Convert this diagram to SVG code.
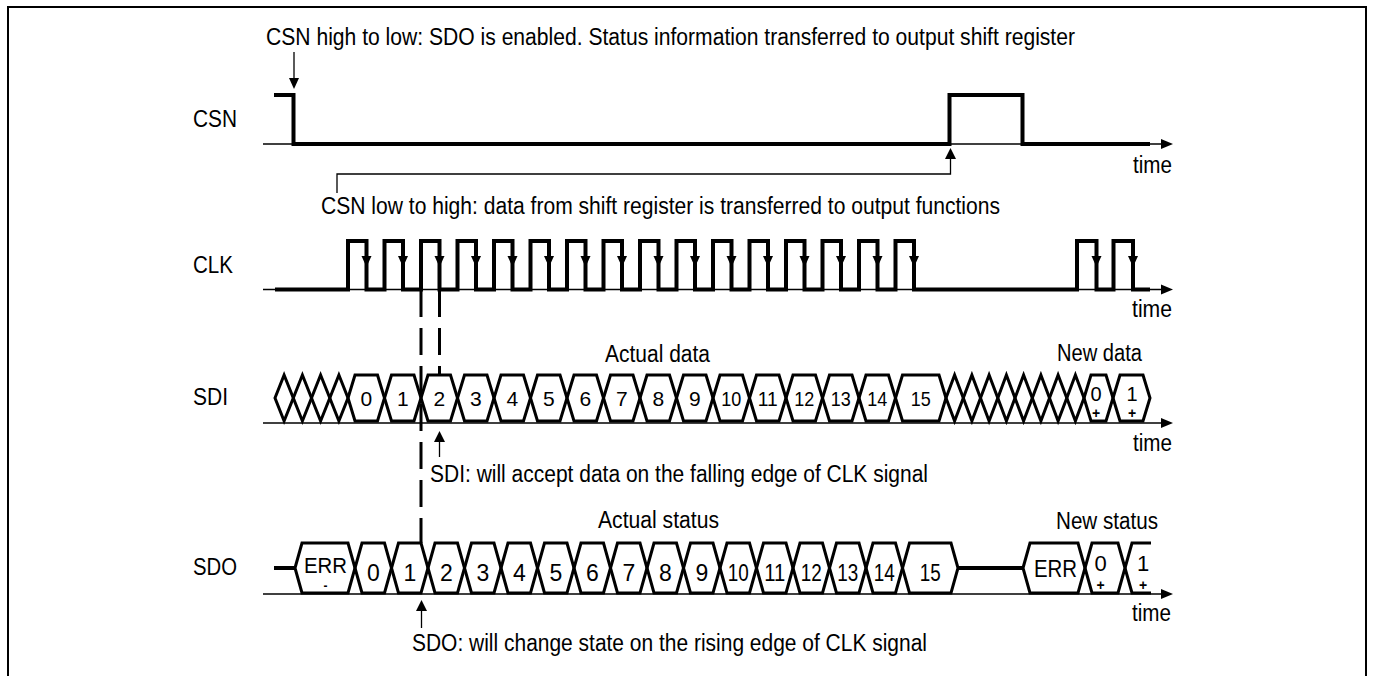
<svg xmlns="http://www.w3.org/2000/svg" width="1373" height="676" viewBox="0 0 1373 676">
  <style>
    .frame{fill:none;stroke:#000;stroke-width:2}
    .sig{fill:none;stroke:#000;stroke-width:4;stroke-linejoin:miter;stroke-linecap:butt}
    .bus{fill:none;stroke:#000;stroke-width:3;stroke-linejoin:miter}
    .axis{fill:none;stroke:#000;stroke-width:1.3}
    .thin{fill:none;stroke:#000;stroke-width:1.3}
    .dash{fill:none;stroke:#000;stroke-width:3;stroke-dasharray:27 11}
    .head{fill:#000;stroke:none}
    text{font-family:"Liberation Sans",Arial,Helvetica,sans-serif;fill:#000}
    .t{font-size:23px}
    .d1{font-size:21px;text-anchor:middle}
    .d2{font-size:23px;text-anchor:middle}
    .pm{font-size:14px;font-weight:bold;text-anchor:middle}
  </style>
  <defs>
    <!-- arrowheads, tip at the origin -->
    <path id="ah-r" class="head" d="M0,0 L-12,-5 L-12,5 Z"/>
    <path id="ah-d" class="head" d="M0,0 L-5,-11 L5,-11 Z"/>
    <path id="ah-u" class="head" d="M0,0 L-5.5,11 L5.5,11 Z"/>
  </defs>

  <rect width="1373" height="676" fill="#fff"/>
  <path class="frame" d="M8,676 V7 H1366 V676"/>

  <!-- CSN -->
  <g id="csn">
    <text class="t" x="193" y="127" textLength="44" lengthAdjust="spacingAndGlyphs">CSN</text>
    <path class="axis" d="M263,144 H1162"/>
    <use href="#ah-r" x="1173" y="144"/>
    <path class="sig" d="M274,95 H293.5 V144 H949.5 V95 H1022.5 V144 H1150"/>
    <text class="t" x="1133" y="173" textLength="39" lengthAdjust="spacingAndGlyphs">time</text>
  </g>

  <!-- CLK -->
  <g id="clk">
    <text class="t" x="193" y="273" textLength="40" lengthAdjust="spacingAndGlyphs">CLK</text>
    <path class="axis" d="M263,289.5 H1162"/>
    <use href="#ah-r" x="1173" y="289.5"/>
    <path class="sig" d="M275,289.5 H348 V241 H366.5 V289.5 H384.5 V241 H403 V289.5 H421 V241 H439.5 V289.5 H457.5 V241 H476 V289.5 H494 V241 H512.5 V289.5 H530.5 V241 H549 V289.5 H567 V241 H585.5 V289.5 H603.5 V241 H622 V289.5 H640 V241 H658.5 V289.5 H676.5 V241 H695 V289.5 H713 V241 H731.5 V289.5 H749.5 V241 H768 V289.5 H786 V241 H804.5 V289.5 H822.5 V241 H841 V289.5 H859 V241 H877.5 V289.5 H895.5 V241 H914 V289.5 H1077 V241 H1096.5 V289.5 H1113.5 V241 H1133 V289.5 H1150"/>
    <!-- falling-edge marks -->
    <g>
      <use href="#ah-d" x="366.5" y="267"/>
      <use href="#ah-d" x="403" y="267"/>
      <use href="#ah-d" x="439.5" y="267"/>
      <use href="#ah-d" x="476" y="267"/>
      <use href="#ah-d" x="512.5" y="267"/>
      <use href="#ah-d" x="549" y="267"/>
      <use href="#ah-d" x="585.5" y="267"/>
      <use href="#ah-d" x="622" y="267"/>
      <use href="#ah-d" x="658.5" y="267"/>
      <use href="#ah-d" x="695" y="267"/>
      <use href="#ah-d" x="731.5" y="267"/>
      <use href="#ah-d" x="768" y="267"/>
      <use href="#ah-d" x="804.5" y="267"/>
      <use href="#ah-d" x="841" y="267"/>
      <use href="#ah-d" x="877.5" y="267"/>
      <use href="#ah-d" x="914" y="267"/>
      <use href="#ah-d" x="1096.5" y="267"/>
      <use href="#ah-d" x="1133" y="267"/>
    </g>
    <text class="t" x="1132" y="317" textLength="40" lengthAdjust="spacingAndGlyphs">time</text>
  </g>

  <!-- SDI -->
  <g id="sdi">
    <text class="t" x="193" y="405" textLength="35" lengthAdjust="spacingAndGlyphs">SDI</text>
    <text class="t" x="605" y="362" textLength="105" lengthAdjust="spacingAndGlyphs">Actual data</text>
    <text class="t" x="1057" y="361" textLength="85" lengthAdjust="spacingAndGlyphs">New data</text>
    <path class="axis" d="M263,423 H1162"/>
    <use href="#ah-r" x="1173" y="423"/>
    <g class="bus">
      <path d="M275,398 L284.1,375 L293.3,398 L284.1,421 Z"/>
      <path d="M293.3,398 L302.4,375 L311.5,398 L302.4,421 Z"/>
      <path d="M311.5,398 L320.6,375 L329.8,398 L320.6,421 Z"/>
      <path d="M329.8,398 L338.9,375 L348,398 L338.9,421 Z"/>
      <path d="M348,398 L355,375 H377.5 L384.5,398 L377.5,421 H355 Z"/>
      <path d="M384.5,398 L391.5,375 H414 L421,398 L414,421 H391.5 Z"/>
      <path d="M421,398 L428,375 H450.5 L457.5,398 L450.5,421 H428 Z"/>
      <path d="M457.5,398 L464.5,375 H487 L494,398 L487,421 H464.5 Z"/>
      <path d="M494,398 L501,375 H523.5 L530.5,398 L523.5,421 H501 Z"/>
      <path d="M530.5,398 L537.5,375 H560 L567,398 L560,421 H537.5 Z"/>
      <path d="M567,398 L574,375 H596.5 L603.5,398 L596.5,421 H574 Z"/>
      <path d="M603.5,398 L610.5,375 H633 L640,398 L633,421 H610.5 Z"/>
      <path d="M640,398 L647,375 H669.5 L676.5,398 L669.5,421 H647 Z"/>
      <path d="M676.5,398 L683.5,375 H706 L713,398 L706,421 H683.5 Z"/>
      <path d="M713,398 L720,375 H742.5 L749.5,398 L742.5,421 H720 Z"/>
      <path d="M749.5,398 L756.5,375 H779 L786,398 L779,421 H756.5 Z"/>
      <path d="M786,398 L793,375 H815.5 L822.5,398 L815.5,421 H793 Z"/>
      <path d="M822.5,398 L829.5,375 H852 L859,398 L852,421 H829.5 Z"/>
      <path d="M859,398 L866,375 H888.5 L895.5,398 L888.5,421 H866 Z"/>
      <path d="M895.5,398 L902.5,375 H939 L946,398 L939,421 H902.5 Z"/>
      <path d="M946,398 L954.6,375 L963.3,398 L954.6,421 Z"/>
      <path d="M963.3,398 L971.9,375 L980.5,398 L971.9,421 Z"/>
      <path d="M980.5,398 L989.1,375 L997.8,398 L989.1,421 Z"/>
      <path d="M997.8,398 L1006.4,375 L1015,398 L1006.4,421 Z"/>
      <path d="M1015,398 L1023.6,375 L1032.3,398 L1023.6,421 Z"/>
      <path d="M1032.3,398 L1040.9,375 L1049.5,398 L1040.9,421 Z"/>
      <path d="M1049.5,398 L1058.1,375 L1066.8,398 L1058.1,421 Z"/>
      <path d="M1066.8,398 L1075.4,375 L1084,398 L1075.4,421 Z"/>
      <path d="M1084,398 L1091,375 H1106 L1113,398 L1106,421 H1091 Z"/>
      <path d="M1113,398 L1120,375 H1143 L1150,398 L1143,421 H1120 Z"/>
    </g>
    <g>
      <text class="d1" x="366.3" y="406">0</text>
      <text class="d1" x="402.8" y="406">1</text>
      <text class="d1" x="439.3" y="406">2</text>
      <text class="d1" x="475.8" y="406">3</text>
      <text class="d1" x="512.3" y="406">4</text>
      <text class="d1" x="548.8" y="406">5</text>
      <text class="d1" x="585.3" y="406">6</text>
      <text class="d1" x="621.8" y="406">7</text>
      <text class="d1" x="658.3" y="406">8</text>
      <text class="d1" x="694.8" y="406">9</text>
      <text class="d1" x="731.3" y="406" textLength="20" lengthAdjust="spacingAndGlyphs">10</text>
      <text class="d1" x="767.8" y="406" textLength="20" lengthAdjust="spacingAndGlyphs">11</text>
      <text class="d1" x="804.3" y="406" textLength="20" lengthAdjust="spacingAndGlyphs">12</text>
      <text class="d1" x="840.8" y="406" textLength="20" lengthAdjust="spacingAndGlyphs">13</text>
      <text class="d1" x="877.3" y="406" textLength="20" lengthAdjust="spacingAndGlyphs">14</text>
      <text class="d1" x="920.8" y="406" textLength="20" lengthAdjust="spacingAndGlyphs">15</text>
      <text class="d1" x="1096" y="400.5" style="font-size:20px">0</text>
      <text class="pm" x="1096" y="418">+</text>
      <text class="d1" x="1132" y="400.5" style="font-size:20px">1</text>
      <text class="pm" x="1132" y="418">+</text>
    </g>
    <text class="t" x="1133" y="451" textLength="39" lengthAdjust="spacingAndGlyphs">time</text>
  </g>

  <!-- SDO -->
  <g id="sdo">
    <text class="t" x="193" y="575" textLength="44" lengthAdjust="spacingAndGlyphs">SDO</text>
    <text class="t" x="598" y="528" textLength="121" lengthAdjust="spacingAndGlyphs">Actual status</text>
    <text class="t" x="1056" y="529" textLength="102" lengthAdjust="spacingAndGlyphs">New status</text>
    <path class="axis" d="M263,594 H1162"/>
    <use href="#ah-r" x="1173" y="594"/>
    <path class="sig" d="M274,568 H295 M958,568 H1023"/>
    <g class="bus">
      <path d="M295,568 L302,543 H348 L355,568 L348,593 H302 Z"/>
      <path d="M355,568 L362,543 H384.5 L391.5,568 L384.5,593 H362 Z"/>
      <path d="M391.5,568 L398.5,543 H421 L428,568 L421,593 H398.5 Z"/>
      <path d="M428,568 L435,543 H457.5 L464.5,568 L457.5,593 H435 Z"/>
      <path d="M464.5,568 L471.5,543 H494 L501,568 L494,593 H471.5 Z"/>
      <path d="M501,568 L508,543 H530.5 L537.5,568 L530.5,593 H508 Z"/>
      <path d="M537.5,568 L544.5,543 H567 L574,568 L567,593 H544.5 Z"/>
      <path d="M574,568 L581,543 H603.5 L610.5,568 L603.5,593 H581 Z"/>
      <path d="M610.5,568 L617.5,543 H640 L647,568 L640,593 H617.5 Z"/>
      <path d="M647,568 L654,543 H676.5 L683.5,568 L676.5,593 H654 Z"/>
      <path d="M683.5,568 L690.5,543 H713 L720,568 L713,593 H690.5 Z"/>
      <path d="M720,568 L727,543 H749.5 L756.5,568 L749.5,593 H727 Z"/>
      <path d="M756.5,568 L763.5,543 H786 L793,568 L786,593 H763.5 Z"/>
      <path d="M793,568 L800,543 H822.5 L829.5,568 L822.5,593 H800 Z"/>
      <path d="M829.5,568 L836.5,543 H859 L866,568 L859,593 H836.5 Z"/>
      <path d="M866,568 L873,543 H895.5 L902.5,568 L895.5,593 H873 Z"/>
      <path d="M902.5,568 L909.5,543 H951 L958,568 L951,593 H909.5 Z"/>
      <path d="M1023,568 L1030,543 H1078 L1085,568 L1078,593 H1030 Z"/>
      <path d="M1085,568 L1092,543 H1118 L1125,568 L1118,593 H1092 Z"/>
      <path d="M1125,568 L1132,543 H1151 M1125,568 L1132,593 H1151"/>
    </g>
    <g>
      <text class="t" x="304" y="573" textLength="43" lengthAdjust="spacingAndGlyphs" style="font-size:22px">ERR</text>
      <text class="pm" x="325.5" y="590" style="font-size:12px">-</text>
      <text class="d2" x="373.3" y="581">0</text>
      <text class="d2" x="409.8" y="581">1</text>
      <text class="d2" x="446.3" y="581">2</text>
      <text class="d2" x="482.8" y="581">3</text>
      <text class="d2" x="519.3" y="581">4</text>
      <text class="d2" x="555.8" y="581">5</text>
      <text class="d2" x="592.3" y="581">6</text>
      <text class="d2" x="628.8" y="581">7</text>
      <text class="d2" x="665.3" y="581">8</text>
      <text class="d2" x="701.8" y="581">9</text>
      <text class="d2" x="738.3" y="581" textLength="21" lengthAdjust="spacingAndGlyphs">10</text>
      <text class="d2" x="774.8" y="581" textLength="21" lengthAdjust="spacingAndGlyphs">11</text>
      <text class="d2" x="811.3" y="581" textLength="21" lengthAdjust="spacingAndGlyphs">12</text>
      <text class="d2" x="847.8" y="581" textLength="21" lengthAdjust="spacingAndGlyphs">13</text>
      <text class="d2" x="884.3" y="581" textLength="21" lengthAdjust="spacingAndGlyphs">14</text>
      <text class="d2" x="930.3" y="581" textLength="21" lengthAdjust="spacingAndGlyphs">15</text>
      <text class="t" x="1034" y="577" textLength="43" lengthAdjust="spacingAndGlyphs">ERR</text>
      <text class="d2" x="1100.5" y="570.5" style="font-size:22px">0</text>
      <text class="pm" x="1100.5" y="589.5">+</text>
      <text class="d2" x="1143" y="570.5" style="font-size:22px">1</text>
      <text class="pm" x="1143" y="589.5">+</text>
    </g>
    <text class="t" x="1132" y="621" textLength="39" lengthAdjust="spacingAndGlyphs">time</text>
  </g>

  <!-- annotations -->
  <g id="note-csn-fall">
    <text class="t" x="266" y="45" textLength="809" lengthAdjust="spacingAndGlyphs">CSN high to low: SDO is enabled. Status information transferred to output shift register</text>
  </g>
  <g id="note-csn-rise">
    <text class="t" x="321" y="214" textLength="679" lengthAdjust="spacingAndGlyphs">CSN low to high: data from shift register is transferred to output functions</text>
  </g>
  <g id="note-sdi">
    <text class="t" x="430" y="482" textLength="498" lengthAdjust="spacingAndGlyphs">SDI: will accept data on the falling edge of CLK signal</text>
  </g>
  <g id="note-sdo">
    <text class="t" x="412" y="651" textLength="515" lengthAdjust="spacingAndGlyphs">SDO: will change state on the rising edge of CLK signal</text>
  </g>

  <!-- connectors -->
  <g id="connectors">
    <path class="thin" d="M294,52 V78"/>
    <use href="#ah-d" x="294" y="89"/>
    <path class="thin" d="M337,193 V174 H950.5 V158"/>
    <use href="#ah-u" x="950.5" y="148"/>
    <path class="thin" d="M439.5,457 V441"/>
    <use href="#ah-u" x="439.5" y="431"/>
    <path class="thin" d="M421.5,628 V610"/>
    <use href="#ah-u" x="421.5" y="600"/>
    <path class="dash" d="M421,290 V543"/>
    <path class="dash" d="M439.5,290 V375"/>
  </g>
</svg>
